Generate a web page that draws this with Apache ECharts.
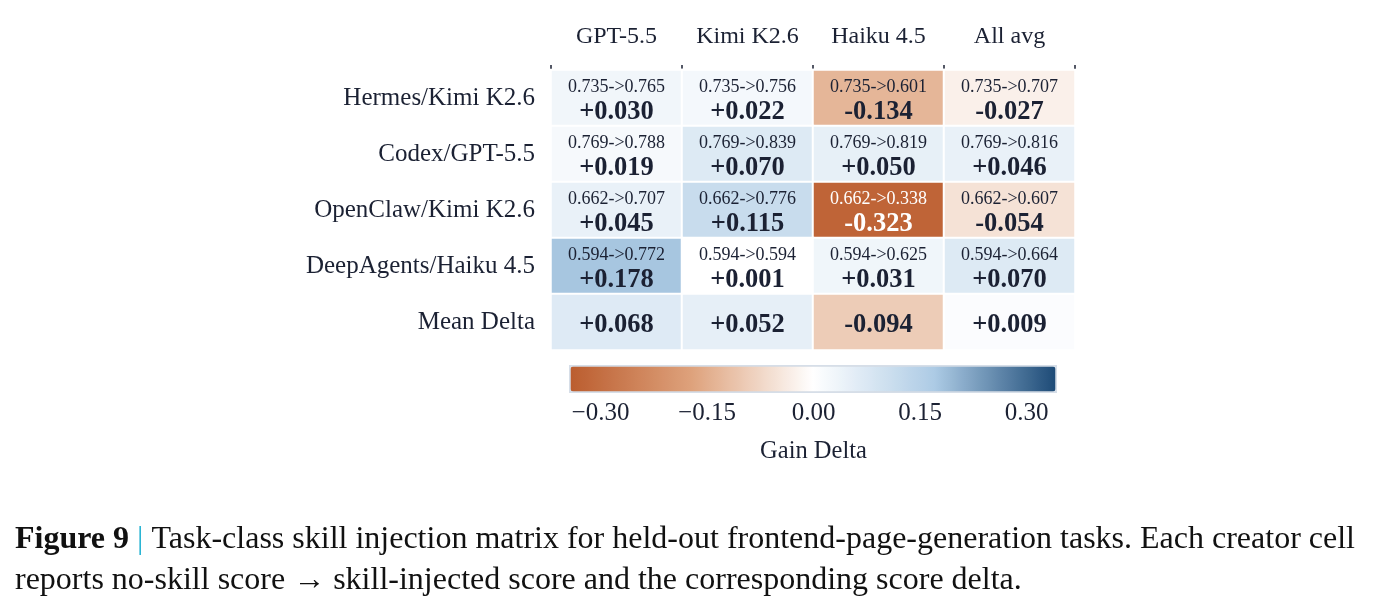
<!DOCTYPE html>
<html>
<head>
<meta charset="utf-8">
<script src="https://cdn.jsdelivr.net/npm/echarts@6/dist/echarts.min.js"></script>
<style>
  html, body { margin: 0; padding: 0; background: #fff; }
  #chart { width: 1384px; height: 610px; }
</style>
</head>
<body>
<div id="chart"></div>
<script>
// columns = skill creator model, rows = agent / model
const creators = ['GPT-5.5', 'Kimi K2.6', 'Haiku 4.5', 'All avg']
const agents = ['Hermes/Kimi K2.6', 'Codex/GPT-5.5', 'OpenClaw/Kimi K2.6', 'DeepAgents/Haiku 4.5']
const meanLabel = 'Mean Delta'

// no-skill score per agent
const baseScore = [0.735, 0.769, 0.662, 0.594]
// skill-injected score, one row per agent
const skillScore = [
  [0.765, 0.756, 0.601, 0.707],
  [0.788, 0.839, 0.819, 0.816],
  [0.707, 0.776, 0.338, 0.607],
  [0.772, 0.594, 0.625, 0.664],
]
// gain delta as printed
const gainDelta = [
  [0.030, 0.022, -0.134, -0.027],
  [0.019, 0.070, 0.050, 0.046],
  [0.045, 0.115, -0.323, -0.054],
  [0.178, 0.001, 0.031, 0.070],
]
const meanDelta = [0.068, 0.052, -0.094, 0.009]

const colorbarTicks = [-0.30, -0.15, 0.00, 0.15, 0.30]
const vLimit = 0.3415

const ink = '#1b2133'
const serif = '"Liberation Serif", "DejaVu Serif", serif'

const rows = agents.concat([meanLabel])
const cells = []
gainDelta.forEach((r, i) => r.forEach((v, j) => cells.push([j, i, v])))
meanDelta.forEach((v, j) => cells.push([j, agents.length, v]))

const signed = v => (v >= 0 ? '+' : '-') + Math.abs(v).toFixed(3)

const chart = echarts.init(document.getElementById('chart'))
chart.setOption({
  animation: false,
  textStyle: { fontFamily: serif, color: ink },
  title: {
    left: 15,
    top: 519,
    padding: 0,
    text: '{b|Figure 9} {bar||} Task-class skill injection matrix for held-out frontend-page-generation tasks. Each creator cell\n' +
      'reports no-skill score \u2192 skill-injected score and the corresponding score delta.',
    textStyle: {
      fontFamily: serif, fontSize: 32, fontWeight: 'normal', color: '#111', lineHeight: 41,
      rich: {
        b: { fontFamily: serif, fontSize: 32, fontWeight: 'bold', color: '#111', lineHeight: 41 },
        bar: { fontFamily: serif, fontSize: 32, color: '#2bb5d4', lineHeight: 41 },
      },
    },
  },
  grid: [
    { left: 551, right: 309, top: 70, height: 280 },
    { left: 571, right: 328, top: 367, height: 25 },
  ],
  xAxis: [
    {
      type: 'category', gridIndex: 0, position: 'top', data: creators,
      axisLine: { show: false },
      axisTick: { show: true, length: 5, lineStyle: { color: ink, width: 1.5 } },
      axisLabel: { interval: 0, fontSize: 24, color: ink, margin: 21, fontFamily: serif },
    },
    {
      type: 'value', gridIndex: 1, min: -vLimit, max: vLimit,
      axisLine: { show: false }, axisTick: { show: false }, splitLine: { show: false },
      axisLabel: {
        customValues: colorbarTicks, fontSize: 25, color: ink, margin: 9, fontFamily: serif,
        formatter: v => (v < 0 ? '\u2212' : '') + Math.abs(v).toFixed(2),
      },
      name: 'Gain Delta', nameLocation: 'middle', nameGap: 47,
      nameTextStyle: { fontSize: 24.5, color: ink, fontFamily: serif },
    },
  ],
  yAxis: [
    {
      type: 'category', gridIndex: 0, data: rows, inverse: true,
      axisLine: { show: false }, axisTick: { show: false },
      axisLabel: { interval: 0, fontSize: 25, color: ink, margin: 16, fontFamily: serif },
    },
    { type: 'value', gridIndex: 1, show: false },
  ],
  visualMap: {
    type: 'continuous',
    seriesIndex: 0,
    min: -vLimit, max: vLimit,
    orient: 'horizontal',
    left: 569, top: 365,
    itemWidth: 25, itemHeight: 485,
    padding: 0,
    calculable: false,
    hoverLink: false,
    text: null,
    borderColor: '#d6dee8', borderWidth: 3,
    inRange: { color: ['#bb5d2f', '#dea27c', '#ffffff', '#adcbe5', '#1d4b77'] },
  },
  series: [{
    type: 'heatmap',
    xAxisIndex: 0, yAxisIndex: 0,
    data: cells,
    itemStyle: { borderColor: '#fff', borderWidth: 2 },
    label: {
      show: true,
      offset: [0, 3],
      formatter: p => {
        const [c, r, v] = p.data
        const strong = Math.abs(v) > 0.25 ? 'W' : ''
        if (r >= agents.length) return `{big${strong}|${signed(v)}}`
        return `{small${strong}|${baseScore[r].toFixed(3)}->${skillScore[r][c].toFixed(3)}}\n{big${strong}|${signed(v)}}`
      },
      rich: {
        small: { fontFamily: serif, fontSize: 18, color: ink, lineHeight: 22, padding: [2, 0, 0, 0] },
        big: { fontFamily: serif, fontSize: 26.5, fontWeight: 'bold', color: ink, lineHeight: 30 },
        smallW: { fontFamily: serif, fontSize: 18, color: '#fff', lineHeight: 22, padding: [2, 0, 0, 0] },
        bigW: { fontFamily: serif, fontSize: 26.5, fontWeight: 'bold', color: '#fff', lineHeight: 30 },
      },
    },
  }],
})
</script>
</body>
</html>
